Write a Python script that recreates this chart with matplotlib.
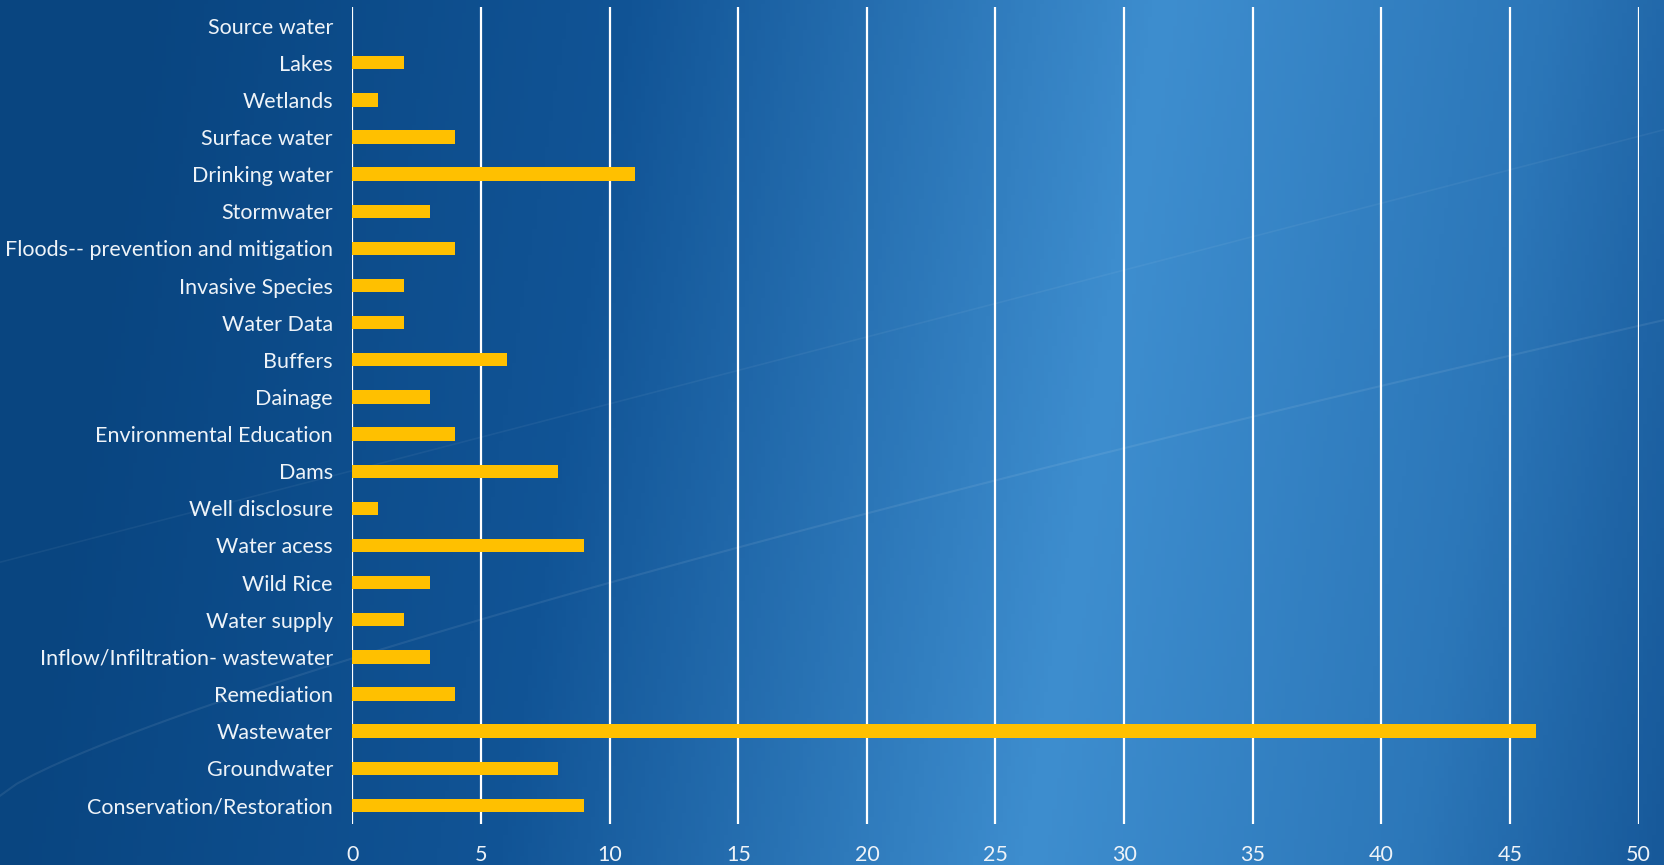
import matplotlib.pyplot as plt
import numpy as np
from matplotlib.colors import LinearSegmentedColormap

categories = [
    "Source water", "Lakes", "Wetlands", "Surface water", "Drinking water",
    "Stormwater", "Floods-- prevention and mitigation", "Invasive Species",
    "Water Data", "Buffers", "Dainage", "Environmental Education", "Dams",
    "Well disclosure", "Water acess", "Wild Rice", "Water supply",
    "Inflow/Infiltration- wastewater", "Remediation", "Wastewater",
    "Groundwater", "Conservation/Restoration",
]
counts = [0, 2, 1, 4, 11, 3, 4, 2, 2, 6, 3, 4, 8, 1, 9, 3, 2, 3, 4, 46, 8, 9]
x_ticks = list(range(0, 55, 5))

TEXT = "#EEF3F8"
plt.rcParams["font.family"] = ["Lato", "DejaVu Sans"]


def main() -> None:
    fig = plt.figure(figsize=(16.64, 8.65), dpi=100)

    # slide-style blue background gradient
    bg = fig.add_axes([0, 0, 1, 1], zorder=-10)
    bg.set_axis_off()
    cmap = LinearSegmentedColormap.from_list(
        "slide", [(0.0, "#094580"), (0.3, "#115496"), (0.62, "#3E8ECF"),
                  (0.85, "#2C77B9"), (1.0, "#17599A")])
    xs = np.linspace(0, 1, 400)
    ys = np.linspace(0, 1, 200)
    gx, gy = np.meshgrid(xs, ys)
    grad = np.clip(gx - 0.08 * (1 - gy), 0, 1)
    bg.imshow(grad, cmap=cmap, aspect="auto", extent=[0, 1, 0, 1], origin="upper")
    t = np.linspace(0, 1, 100)
    bg.plot(t, 0.08 + 0.55 * t ** 0.8, color="white", alpha=0.08, lw=1.5)
    bg.plot(t, 0.35 + 0.5 * t, color="white", alpha=0.05, lw=1.2)
    bg.set_xlim(0, 1)
    bg.set_ylim(0, 1)

    ax = fig.add_axes([0.2118, 0.0474, 0.7729, 0.9445])
    ax.patch.set_alpha(0)
    y = np.arange(len(categories))
    ax.barh(y, counts, height=0.36, color="#FFC000", linewidth=0, zorder=3)
    ax.set_ylim(len(categories) - 0.5, -0.5)
    ax.set_yticks(y)
    ax.set_yticklabels(categories)
    ax.set_xlim(0, 50)
    ax.set_xticks(x_ticks)
    ax.grid(axis="x", color="white", linewidth=1.6, zorder=1)
    ax.set_axisbelow(True)
    for s in ax.spines.values():
        s.set_visible(False)
    ax.tick_params(axis="y", length=0, pad=14, labelsize=15.5, labelcolor=TEXT)
    ax.tick_params(axis="x", length=0, pad=15, labelsize=15.5, labelcolor=TEXT)

    fig.savefig("out.png", dpi=100)


if __name__ == "__main__":
    main()
